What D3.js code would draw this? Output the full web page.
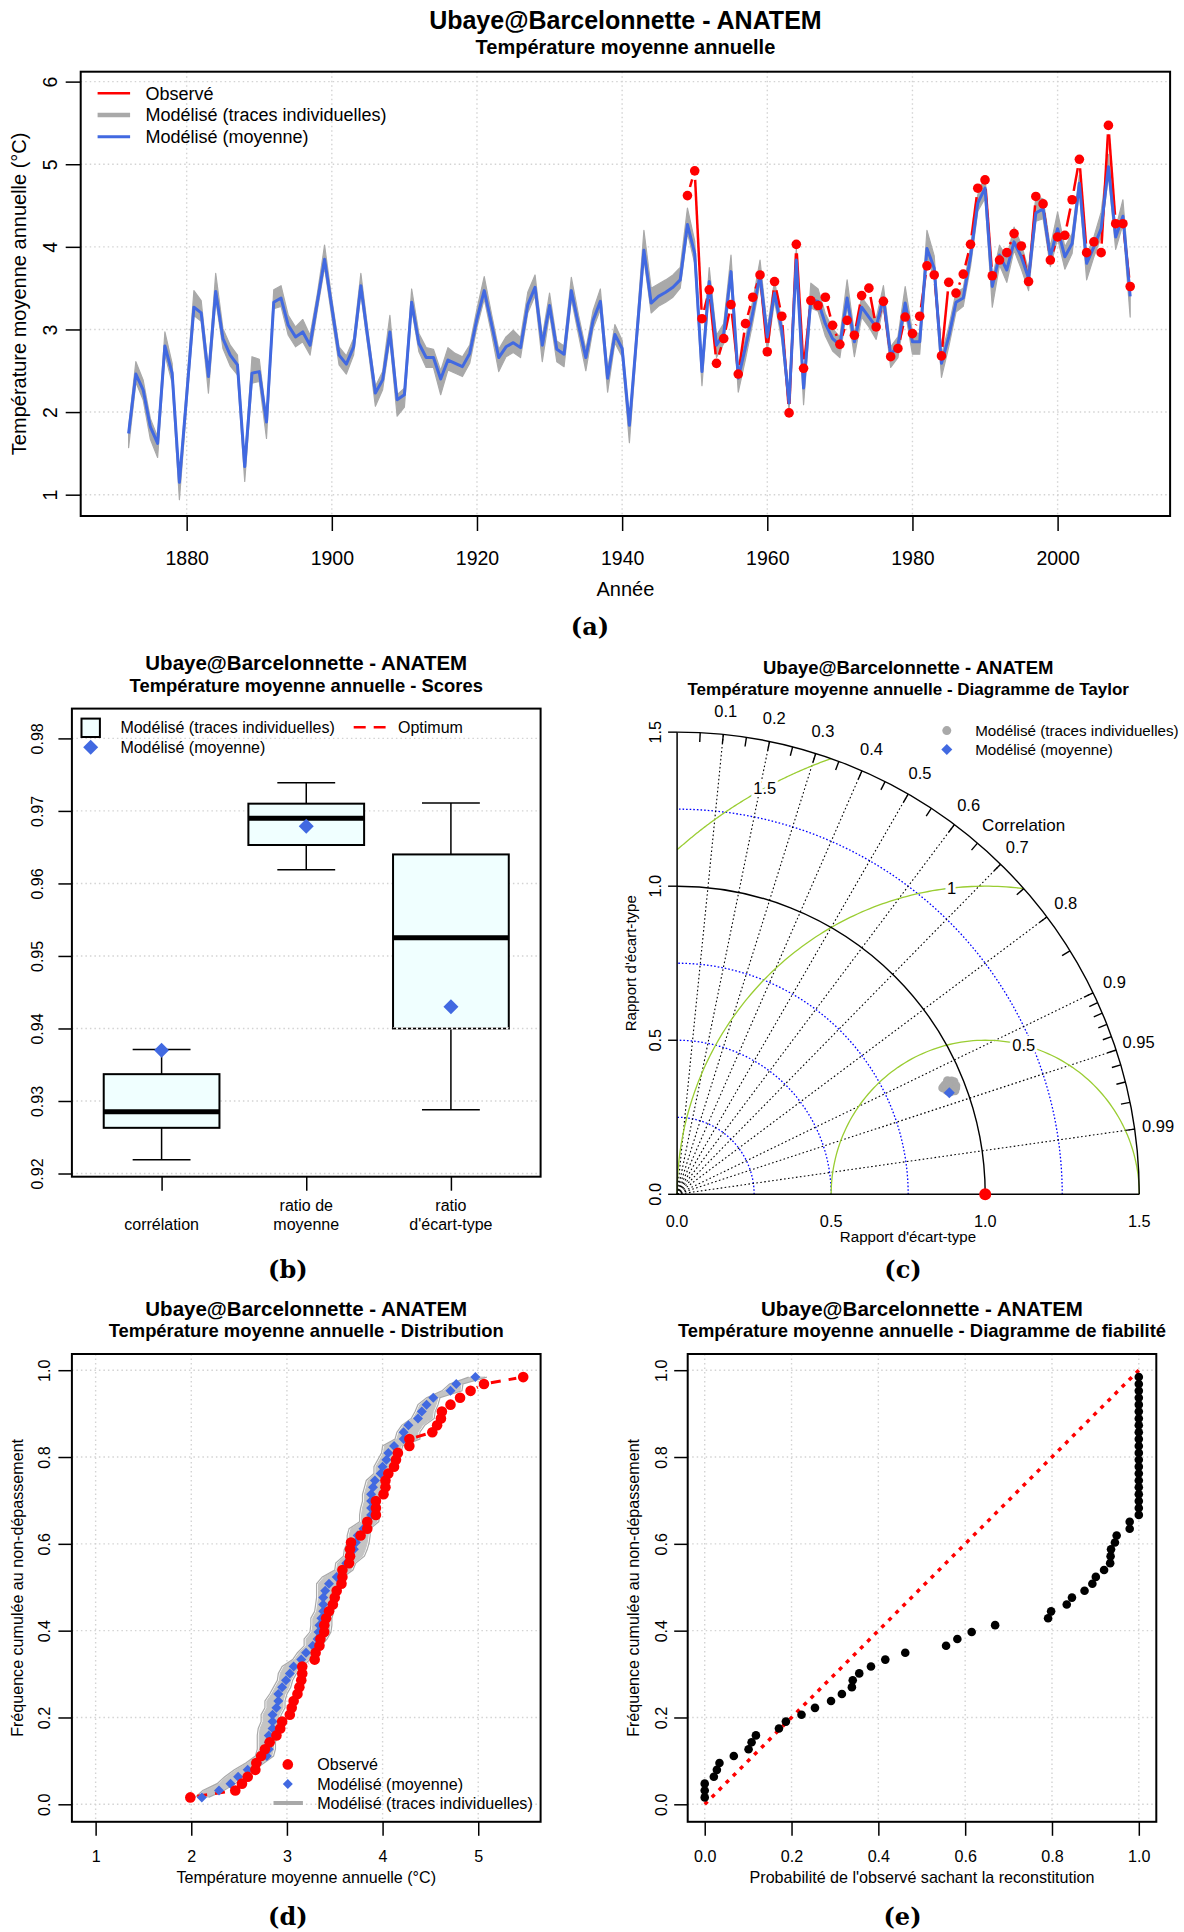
<!DOCTYPE html>
<html><head><meta charset="utf-8">
<script src="https://cdn.jsdelivr.net/npm/d3@7"></script>
<style>
html,body{margin:0;padding:0;background:#fff;}
svg{display:block;}
</style></head>
<body>
<svg id="fig" width="1184" height="1932" xmlns="http://www.w3.org/2000/svg"></svg>
<script>
// ================= DATA =================
// (a) annual mean temperature, modelled ensemble mean, 1872-2010
const yearStart = 1872;
const modMean = [
 1.74,2.46,2.27,1.82,1.62,2.80,2.47,1.15,2.20,3.27, // 1872-1881
 3.20,2.43,3.46,2.89,2.69,2.57,1.34,2.47,2.49,1.88, // 1882-1891
 3.33,3.38,3.05,2.91,2.97,2.81,3.33,3.85,3.27,2.69, // 1892-1901
 2.58,2.79,3.53,2.87,2.23,2.39,2.97,2.15,2.21,3.33, // 1902-1911
 2.83,2.66,2.66,2.40,2.63,2.59,2.55,2.71,3.13,3.47, // 1912-1921
 3.07,2.66,2.79,2.84,2.78,3.30,3.51,2.81,3.29,2.76, // 1922-1931
 2.70,3.47,3.05,2.66,3.11,3.34,2.41,2.94,2.77,1.84, // 1932-1941
 2.91,3.96,3.32,3.40,3.45,3.51,3.60,4.27,3.92,2.49, // 1942-1951
 3.58,2.81,2.95,3.70,2.41,2.79,3.20,3.66,2.91,3.44, // 1952-1961
 2.99,2.11,3.84,2.29,3.36,3.34,3.07,2.89,2.81,3.38, // 1962-1971
 2.85,3.27,3.15,3.03,3.38,2.69,2.81,3.32,2.85,2.85, // 1972-1981
 3.98,3.74,2.59,2.91,3.33,3.38,3.88,4.53,4.71,3.52, // 1982-1991
 3.90,3.72,4.06,3.88,3.62,4.41,4.46,3.88,4.22,3.88, // 1992-2001
 4.04,4.77,3.80,4.00,4.22,4.97,4.12,4.37,3.40        // 2002-2010
];
// spread of the individual traces below / above the mean
const envLow = [
 .17,.10,.12,.15,.17,.10,.12,.21,.12,.10, .10,.20,.10,.12,.13,.12,.18,.12,.12,.20,
 .08,.10,.12,.12,.12,.12,.10,.10,.12,.12, .12,.10,.10,.10,.16,.12,.10,.20,.15,.08,
 .10,.12,.12,.19,.12,.12,.12,.12,.10,.10, .12,.17,.12,.12,.12,.10,.10,.20,.10,.15,
 .15,.10,.12,.16,.10,.10,.17,.10,.10,.21, .12,.10,.12,.12,.12,.12,.10,.10,.12,.17,
 .10,.15,.12,.10,.17,.15,.12,.10,.17,.10, .12,.10,.10,.20,.10,.12,.15,.15,.15,.10,
 .18,.12,.12,.15,.10,.15,.15,.10,.15,.15, .10,.12,.17,.12,.12,.10,.12,.10,.12,.25,
 .12,.15,.10,.15,.15,.10,.12,.12,.12,.15, .12,.10,.20,.12,.10,.10,.15,.10,.25
];
const envHigh = [
 .08,.15,.12,.10,.08,.17,.12,.05,.12,.20, .15,.08,.22,.12,.12,.12,.06,.20,.15,.05,
 .15,.15,.12,.12,.15,.12,.10,.17,.10,.10, .10,.10,.15,.10,.08,.10,.20,.06,.08,.16,
 .12,.12,.10,.10,.15,.12,.12,.10,.12,.17, .12,.10,.12,.15,.12,.15,.15,.10,.15,.10,
 .10,.16,.12,.10,.12,.15,.10,.12,.10,.05, .12,.24,.18,.15,.15,.15,.15,.20,.15,.08,
 .17,.12,.12,.20,.08,.10,.15,.18,.10,.15, .10,.10,.15,.08,.20,.15,.12,.12,.10,.22,
 .10,.12,.12,.10,.15,.10,.10,.20,.12,.10, .22,.15,.10,.12,.12,.12,.12,.10,.15,.10,
 .12,.15,.18,.15,.10,.20,.12,.12,.20,.12, .12,.10,.10,.12,.20,.15,.10,.20,.10
];
// observed annual mean temperature, 1949-2010
const obsStart = 1949;
const observed = [
 4.62,4.92,3.13,3.48,2.59,2.89,3.30,2.46,3.07,3.39, // 1949-1958
 3.66,2.73,3.58,3.16,1.99,4.03,2.53,3.35,3.29,3.39, // 1959-1968
 3.05,2.82,3.11,2.93,3.41,3.50,3.03,3.34,2.67,2.77, // 1969-1978
 3.15,2.95,3.16,3.77,3.66,2.68,3.57,3.44,3.67,4.03, // 1979-1988
 4.71,4.81,3.65,3.84,3.93,4.16,4.01,3.58,4.61,4.52, // 1989-1998
 3.84,4.12,4.14,4.57,5.06,3.93,4.06,3.93,5.47,4.28, // 1999-2008
 4.28,3.52                                          // 2009-2010
];
const yearTicks = [1880,1900,1920,1940,1960,1980,2000];
const tempTicks = [1,2,3,4,5,6];
const legendA = ["Observé","Modélisé (traces individuelles)","Modélisé (moyenne)"];

// (b) scores boxplots
const scoreCategories = [["corrélation"],["ratio de","moyenne"],["ratio","d'écart-type"]];
const boxWhiskerLow  = [0.9219,0.9619,0.9288];
const boxQ1          = [0.9263,0.9653,0.9400];
const boxMedian      = [0.9285,0.9690,0.9525];
const boxQ3          = [0.9337,0.9710,0.9640];
const boxWhiskerHigh = [0.9371,0.9739,0.9711];
const meanScores     = [0.9370,0.9679,0.9430];
const scoreTicks = [0.92,0.93,0.94,0.95,0.96,0.97,0.98];

// (c) Taylor diagram: individual traces (correlation, sd ratio)
const memberCorr = [0.9219,0.9245,0.9258,0.9263,0.9268,0.9275,0.9281,0.9283,0.9285,0.9286,
                    0.9290,0.9301,0.9318,0.9330,0.9337,0.9342,0.9350,0.9358,0.9365,0.9371];
const memberSd   = [0.9520,0.9640,0.9410,0.9700,0.9350,0.9480,0.9600,0.9288,0.9560,0.9400,
                    0.9650,0.9530,0.9711,0.9380,0.9450,0.9680,0.9420,0.9590,0.9500,0.9620];
const corrLabelValues = [0.1,0.2,0.3,0.4,0.5,0.6,0.7,0.8,0.9,0.95,0.99];
const corrTickValues = [0.05,0.1,0.15,0.2,0.25,0.3,0.35,0.4,0.45,0.5,0.55,0.6,0.65,0.7,0.75,0.8,0.85,0.9,
                        0.91,0.92,0.93,0.94,0.95,0.96,0.97,0.98,0.99];
const sdArcsDotted = [0.25,0.5,0.75,1.25];
const sdArcsSolid = [1.0,1.5];
const rmsArcs = [0.5,1.0,1.5];
const rmsLabels = ["0.5","1","1.5"];
const sdTicks = [0,0.5,1.0,1.5];

// (d) distribution ticks
const distTempTicks = [1,2,3,4,5];
const freqTicks = [0,0.2,0.4,0.6,0.8,1.0];

// (e) reliability: probability of the observation given the reconstruction (sorted)
const reliabilityP = [
 0,0,0,0.021,0.028,0.034,0.067,0.101,0.108,0.118,
 0.171,0.187,0.223,0.254,0.291,0.316,0.339,0.341,0.356,0.383,
 0.416,0.462,0.556,0.582,0.615,0.669,0.791,0.798,0.834,0.846,
 0.875,0.893,0.901,0.920,0.934,0.935,0.936,0.945,0.949,0.979,
 0.979,1,1,1,1,1,1,1,1,1,
 1,1,1,1,1,1,1,1,1,1,
 1,1
];
const probTicks = [0,0.2,0.4,0.6,0.8,1.0];

// ================= DRAWING =================
const svg = d3.select("#fig");
const SANS = "'Liberation Sans', Arial, Helvetica, sans-serif";
const SERIF = "'DejaVu Serif', 'Liberation Serif', serif";
const BLUE = "#4169E1", GREY = "#A9A9A9", RED = "#FF0000", GRID = "#D3D3D3", AZURE = "#F0FFFF", GREEN = "#9ACD32";
const defs = svg.append("defs");

function txt(g, x, y, s, size, o = {}) {
  const t = g.append("text").attr("x", x).attr("y", y).text(s)
    .attr("font-size", size).attr("font-family", o.family || SANS)
    .attr("text-anchor", o.anchor || "middle").attr("fill", o.fill || "#000");
  if (o.bold) t.attr("font-weight", "bold");
  if (o.rotate) t.attr("transform", `rotate(${o.rotate},${x},${y})`);
  return t;
}
const ctext = (g, cx, cy, s, size, o = {}) => txt(g, cx, cy + 0.355 * size, s, size, o);
const vtext = (g, cx, cy, s, size, o = {}) => txt(g, cx + 0.355 * size, cy, s, size, Object.assign({ rotate: -90 }, o));
const diamond = s => `M0,${-s}L${s},0L0,${s}L${-s},0Z`;

function clip(id, L, T, R, B) {
  defs.append("clipPath").attr("id", id).append("rect").attr("x", L).attr("y", T).attr("width", R - L).attr("height", B - T);
}
function gridX(g, vals, x, T, B) {
  g.selectAll(null).data(vals).join("line").attr("x1", d => x(d)).attr("x2", d => x(d)).attr("y1", T).attr("y2", B)
    .attr("stroke", GRID).attr("stroke-width", 1.4).attr("stroke-dasharray", "1.5,3");
}
function gridY(g, vals, y, L, R) {
  g.selectAll(null).data(vals).join("line").attr("y1", d => y(d)).attr("y2", d => y(d)).attr("x1", L).attr("x2", R)
    .attr("stroke", GRID).attr("stroke-width", 1.4).attr("stroke-dasharray", "1.5,3");
}
function gapped(g, pts, gap, stroke, width, dash) {
  for (let i = 0; i < pts.length - 1; i++) {
    const [x0, y0] = pts[i], [x1, y1] = pts[i + 1];
    const dx = x1 - x0, dy = y1 - y0, len = Math.hypot(dx, dy);
    if (len <= 2 * gap) continue;
    const ux = dx / len, uy = dy / len;
    const l = g.append("line").attr("x1", x0 + ux * gap).attr("y1", y0 + uy * gap)
      .attr("x2", x1 - ux * gap).attr("y2", y1 - uy * gap)
      .attr("stroke", stroke).attr("stroke-width", width);
    if (dash) l.attr("stroke-dasharray", dash);
  }
}
function bottomAxis(g, x, vals, B, size, tick, labelCy, fmt) {
  const a = g.append("g").attr("transform", `translate(0,${B})`)
    .call(d3.axisBottom(x).tickValues(vals).tickSize(tick).tickSizeOuter(0).tickFormat(fmt));
  a.select(".domain").remove();
  a.attr("font-family", SANS).attr("font-size", size);
  a.selectAll("line").attr("stroke", "#000").attr("stroke-width", 1.5);
  a.selectAll("text").attr("fill", "#000").attr("dy", null).attr("y", labelCy - B + 0.355 * size);
  return a;
}
function leftAxis(g, y, vals, L, size, tick, labelCx, fmt) {
  const a = g.append("g").attr("transform", `translate(${L},0)`)
    .call(d3.axisLeft(y).tickValues(vals).tickSize(tick).tickSizeOuter(0).tickFormat(fmt));
  a.select(".domain").remove();
  a.attr("font-family", SANS).attr("font-size", size);
  a.selectAll("line").attr("stroke", "#000").attr("stroke-width", 1.5);
  a.selectAll("text").attr("fill", "#000").attr("x", null).attr("dy", null).attr("text-anchor", "middle")
    .attr("transform", `translate(${labelCx + 0.355 * size - L},0) rotate(-90)`);
  return a;
}
function frame(g, L, T, R, B) {
  g.append("rect").attr("x", L).attr("y", T).attr("width", R - L).attr("height", B - T)
    .attr("fill", "none").attr("stroke", "#000").attr("stroke-width", 2);
}

// ---------- (a) time series ----------
{
  const L = 80.7, R = 1170.1, T = 71.7, B = 516;
  const g = svg.append("g");
  const x = d3.scaleLinear().domain([1865.4, 2015.5]).range([L, R]);
  const y = d3.scaleLinear().domain([0.742, 6.12]).range([B, T]);
  clip("clipA", L, T, R, B);
  gridX(g, yearTicks, x, T, B);
  gridY(g, tempTicks, y, L, R);
  const pg = g.append("g").attr("clip-path", "url(#clipA)");
  const yr = i => yearStart + i;
  pg.append("path").datum(modMean)
    .attr("d", d3.area().x((d, i) => x(yr(i))).y0((d, i) => y(d - envLow[i])).y1((d, i) => y(d + envHigh[i])))
    .attr("fill", GREY).attr("stroke", GREY).attr("stroke-width", 1.2).attr("stroke-linejoin", "round");
  const pts = observed.map((v, i) => [x(obsStart + i), y(v)]);
  gapped(pg, pts, 9, RED, 2.5);
  pg.append("path").datum(modMean)
    .attr("d", d3.line().x((d, i) => x(yr(i))).y(d => y(d)))
    .attr("fill", "none").attr("stroke", BLUE).attr("stroke-width", 3).attr("stroke-linejoin", "round");
  pg.selectAll(null).data(pts).join("circle").attr("cx", d => d[0]).attr("cy", d => d[1]).attr("r", 4.8).attr("fill", RED);
  frame(g, L, T, R, B);
  bottomAxis(g, x, yearTicks, B, 19.5, 15, 558.3, d3.format("d"));
  leftAxis(g, y, tempTicks, L, 19.5, 15, 49.7, d3.format("d"));
  ctext(g, (L + R) / 2, 20, "Ubaye@Barcelonnette - ANATEM", 25, { bold: true });
  ctext(g, (L + R) / 2, 46.7, "Température moyenne annuelle", 20, { bold: true });
  ctext(g, (L + R) / 2, 589, "Année", 20);
  vtext(g, 19, (T + B) / 2, "Température moyenne annuelle (°C)", 20);
  // legend
  const ly = [93.3, 115, 136.7], lc = [RED, GREY, BLUE], lw = [2.5, 4.5, 3];
  legendA.forEach((s, i) => {
    g.append("line").attr("x1", 97.6).attr("x2", 130.1).attr("y1", ly[i]).attr("y2", ly[i]).attr("stroke", lc[i]).attr("stroke-width", lw[i]);
    ctext(g, 145.4, ly[i], s, 18, { anchor: "start" });
  });
  ctext(g, 590, 626, "(a)", 24, { family: SERIF, bold: true });
}

// ---------- (b) scores ----------
{
  const L = 71.9, R = 540.6, T = 708.6, B = 1176.7;
  const g = svg.append("g");
  const x = d3.scaleLinear().domain([0.38, 3.62]).range([L, R]);
  const y = d3.scaleLinear().domain([0.91956, 0.98411]).range([B, T]);
  gridY(g, scoreTicks, y, L, R);
  const idx = [1, 2, 3];
  const hw = x(1.4) - x(1), cw = x(1.2) - x(1);
  idx.forEach((k, i) => {
    const cx = x(k);
    g.append("line").attr("x1", cx).attr("x2", cx).attr("y1", y(boxWhiskerLow[i])).attr("y2", y(boxQ1[i])).attr("stroke", "#000").attr("stroke-width", 1.5);
    g.append("line").attr("x1", cx).attr("x2", cx).attr("y1", y(boxQ3[i])).attr("y2", y(boxWhiskerHigh[i])).attr("stroke", "#000").attr("stroke-width", 1.5);
    [boxWhiskerLow[i], boxWhiskerHigh[i]].forEach(v =>
      g.append("line").attr("x1", cx - cw).attr("x2", cx + cw).attr("y1", y(v)).attr("y2", y(v)).attr("stroke", "#000").attr("stroke-width", 1.5));
    g.append("rect").attr("x", cx - hw).attr("width", 2 * hw).attr("y", y(boxQ3[i])).attr("height", y(boxQ1[i]) - y(boxQ3[i]))
      .attr("fill", AZURE).attr("stroke", "#000").attr("stroke-width", 2);
    g.append("line").attr("x1", cx - hw).attr("x2", cx + hw).attr("y1", y(boxMedian[i])).attr("y2", y(boxMedian[i])).attr("stroke", "#000").attr("stroke-width", 5);
    g.append("path").attr("d", diamond(7.5)).attr("transform", `translate(${cx},${y(meanScores[i])})`).attr("fill", BLUE);
  });
  // dashed bottom edge of third box
  g.append("line").attr("x1", x(3) - hw).attr("x2", x(3) + hw).attr("y1", y(boxQ1[2])).attr("y2", y(boxQ1[2]))
    .attr("stroke", "#fff").attr("stroke-width", 2.2);
  g.append("line").attr("x1", x(3) - hw).attr("x2", x(3) + hw).attr("y1", y(boxQ1[2])).attr("y2", y(boxQ1[2]))
    .attr("stroke", "#000").attr("stroke-width", 1.6).attr("stroke-dasharray", "3,2");
  frame(g, L, T, R, B);
  const a = g.append("g").attr("transform", `translate(0,${B})`)
    .call(d3.axisBottom(x).tickValues(idx).tickSize(14).tickSizeOuter(0).tickFormat(""));
  a.select(".domain").remove();
  a.selectAll("line").attr("stroke", "#000").attr("stroke-width", 1.5);
  scoreCategories.forEach((lines, i) => {
    const cys = lines.length === 1 ? [1224.5] : [1205.3, 1224.5];
    lines.forEach((s, j) => ctext(g, x(idx[i]), cys[j], s, 16));
  });
  leftAxis(g, y, scoreTicks, L, 16, 13.5, 37.6, d3.format(".2f"));
  ctext(g, (L + R) / 2, 662.4, "Ubaye@Barcelonnette - ANATEM", 20.5, { bold: true });
  ctext(g, (L + R) / 2, 685.7, "Température moyenne annuelle - Scores", 18.4, { bold: true });
  // legend
  g.append("rect").attr("x", 90.7 - 9.2).attr("y", 727.8 - 9.2).attr("width", 18.4).attr("height", 18.4)
    .attr("fill", AZURE).attr("stroke", "#000").attr("stroke-width", 2);
  ctext(g, 120.4, 727.8, "Modélisé (traces individuelles)", 16, { anchor: "start" });
  g.append("path").attr("d", diamond(7.5)).attr("transform", "translate(90.7,747.3)").attr("fill", BLUE);
  ctext(g, 120.4, 747.3, "Modélisé (moyenne)", 16, { anchor: "start" });
  g.append("line").attr("x1", 353.7).attr("x2", 385.6).attr("y1", 727.3).attr("y2", 727.3)
    .attr("stroke", RED).attr("stroke-width", 2.5).attr("stroke-dasharray", "12,8");
  ctext(g, 398, 727.8, "Optimum", 16, { anchor: "start" });
  ctext(g, 287.8, 1269, "(b)", 24, { family: SERIF, bold: true });
}

// ---------- (c) Taylor diagram ----------
{
  const g = svg.append("g");
  const O = [677.1, 1194.3];
  const r = d3.scaleLinear().domain([0, 1.5]).range([0, 462.15]);
  const P = (rad, c) => [O[0] + r(rad) * c, O[1] - r(rad) * Math.sqrt(Math.max(0, 1 - c * c))];
  const quarter = rad => { const p = d3.path(); p.moveTo(O[0] + r(rad), O[1]); p.arc(O[0], O[1], r(rad), 0, -Math.PI / 2, true); return p.toString(); };
  sdArcsDotted.forEach(v => g.append("path").attr("d", quarter(v)).attr("fill", "none").attr("stroke", "#0000FF").attr("stroke-width", 1.3).attr("stroke-dasharray", "1.6,2"));
  corrLabelValues.forEach(c => { const [x1, y1] = P(1.5, c);
    g.append("line").attr("x1", O[0]).attr("y1", O[1]).attr("x2", x1).attr("y2", y1).attr("stroke", "#000").attr("stroke-width", 1.1).attr("stroke-dasharray", "1.6,2.4"); });
  const line = d3.line().x(d => O[0] + r(d[0])).y(d => O[1] - r(d[1]));
  rmsArcs.forEach(rho => {
    const xe = (3.25 - rho * rho) / 2;
    const te = Math.atan2(Math.sqrt(Math.max(0, rho * rho - (xe - 1) * (xe - 1))), xe - 1);
    const ts = rho <= 1 ? Math.PI : Math.atan2(Math.sqrt(rho * rho - 1), -1);
    const pts = d3.range(0, 121).map(k => { const t = te + (ts - te) * k / 120; return [1 + rho * Math.cos(t), rho * Math.sin(t)]; });
    g.append("path").attr("d", line(pts)).attr("fill", "none").attr("stroke", GREEN).attr("stroke-width", 1.3);
  });
  const rmsAngles = [75.5, 96.25, 118.5];
  rmsArcs.forEach((rho, i) => {
    const t = rmsAngles[i] * Math.PI / 180;
    const px = O[0] + r(1 + rho * Math.cos(t)), py = O[1] - r(rho * Math.sin(t));
    ctext(g, px, py, rmsLabels[i], 16.5).attr("stroke", "#fff").attr("stroke-width", 6).attr("paint-order", "stroke");
  });
  sdArcsSolid.forEach(v => g.append("path").attr("d", quarter(v)).attr("fill", "none").attr("stroke", "#000").attr("stroke-width", 1.4));
  corrTickValues.forEach(c => { const [x1, y1] = P(1.5, c), [x2, y2] = P(1.47, c);
    g.append("line").attr("x1", x1).attr("y1", y1).attr("x2", x2).attr("y2", y2).attr("stroke", "#000").attr("stroke-width", 1.4); });
  corrLabelValues.forEach(c => { const [px, py] = P(1.577, c); ctext(g, px, py, String(c), 16.5); });
  ctext(g, 1023.7, 824.9, "Correlation", 17);
  g.append("line").attr("x1", O[0]).attr("x2", O[0]).attr("y1", O[1]).attr("y2", O[1] - r(1.5)).attr("stroke", "#000").attr("stroke-width", 1.5);
  g.append("line").attr("x1", O[0]).attr("x2", O[0] + r(1.5)).attr("y1", O[1]).attr("y2", O[1]).attr("stroke", "#000").attr("stroke-width", 1.5);
  sdTicks.forEach(v => {
    g.append("line").attr("x1", O[0] - 9).attr("x2", O[0]).attr("y1", O[1] - r(v)).attr("y2", O[1] - r(v)).attr("stroke", "#000").attr("stroke-width", 1.4);
    vtext(g, 655, O[1] - r(v), v.toFixed(1), 16.3);
    ctext(g, O[0] + r(v), 1221.6, v.toFixed(1), 16.3);
  });
  ctext(g, 908, 1237, "Rapport d'écart-type", 15.1);
  vtext(g, 631, O[1] - r(0.75), "Rapport d'écart-type", 15.1);
  memberCorr.forEach((c, i) => { const [px, py] = P(memberSd[i], c);
    g.append("circle").attr("cx", px).attr("cy", py).attr("r", 4.5).attr("fill", GREY); });
  { const [px, py] = P(meanScores[2], meanScores[0]);
    g.append("path").attr("d", diamond(5.5)).attr("transform", `translate(${px},${py})`).attr("fill", BLUE); }
  { const [px, py] = P(1, 1); g.append("circle").attr("cx", px).attr("cy", py).attr("r", 6).attr("fill", RED); }
  ctext(g, 908.2, 667.8, "Ubaye@Barcelonnette - ANATEM", 18.5, { bold: true });
  ctext(g, 908.2, 689, "Température moyenne annuelle - Diagramme de Taylor", 17, { bold: true });
  g.append("circle").attr("cx", 946.8).attr("cy", 730.6).attr("r", 4.5).attr("fill", GREY);
  ctext(g, 975.2, 730.6, "Modélisé (traces individuelles)", 15.2, { anchor: "start" });
  g.append("path").attr("d", diamond(5.5)).attr("transform", "translate(946.8,749.4)").attr("fill", BLUE);
  ctext(g, 975.2, 749.4, "Modélisé (moyenne)", 15.2, { anchor: "start" });
  ctext(g, 903, 1269, "(c)", 24, { family: SERIF, bold: true });
}

// ---------- (d) distribution ----------
const nObs = observed.length;
const freq = i => (i + 1) / (nObs + 1);
{
  const L = 71.9, R = 540.6, T = 1354, B = 1821.8;
  const g = svg.append("g");
  const x = d3.scaleLinear().domain([0.752, 5.652]).range([L, R]);
  const y = d3.scaleLinear().domain([-0.0403, 1.0373]).range([B, T]);
  clip("clipD", L, T, R, B);
  gridX(g, distTempTicks, x, T, B);
  gridY(g, freqTicks, y, L, R);
  const pg = g.append("g").attr("clip-path", "url(#clipD)");
  const off = obsStart - yearStart;
  const modSub = modMean.slice(off, off + nObs);
  const modSorted = modSub.slice().sort(d3.ascending);
  const loSorted = modSub.map((v, i) => v - envLow[off + i]).sort(d3.ascending);
  const hiSorted = modSub.map((v, i) => v + envHigh[off + i]).sort(d3.ascending);
  const obsSorted = observed.slice().sort(d3.ascending);
  pg.append("path").datum(modSorted)
    .attr("d", d3.area().y((d, i) => y(freq(i))).x0((d, i) => x(loSorted[i] + 0.05)).x1((d, i) => x(hiSorted[i] - 0.05)))
    .attr("fill", "#C4C4C4").attr("stroke", "#C4C4C4").attr("stroke-width", 1);
  [loSorted, hiSorted].forEach(arr => pg.append("path").datum(arr.map(v => v + (arr === loSorted ? 0.03 : -0.03)))
    .attr("d", d3.line().x(d => x(d)).y((d, i) => y(freq(i)))).attr("fill", "none").attr("stroke", GREY).attr("stroke-width", 1.2));
  const rp = obsSorted.map((v, i) => [x(v), y(freq(i))]);
  gapped(pg, rp, 7, RED, 3, "10,8");
  pg.selectAll(null).data(modSorted).join("path").attr("d", diamond(5))
    .attr("transform", (d, i) => `translate(${x(d)},${y(freq(i))})`).attr("fill", BLUE);
  pg.selectAll(null).data(rp).join("circle").attr("cx", d => d[0]).attr("cy", d => d[1]).attr("r", 5.3).attr("fill", RED);
  frame(g, L, T, R, B);
  bottomAxis(g, x, distTempTicks, B, 16.1, 14, 1856, d3.format("d"));
  leftAxis(g, y, freqTicks, L, 16.1, 13.5, 44.4, d3.format(".1f"));
  ctext(g, (L + R) / 2, 1308.3, "Ubaye@Barcelonnette - ANATEM", 20.5, { bold: true });
  ctext(g, (L + R) / 2, 1330.7, "Température moyenne annuelle - Distribution", 18.4, { bold: true });
  ctext(g, (L + R) / 2, 1877.5, "Température moyenne annuelle (°C)", 16.1);
  vtext(g, 16.9, (T + B) / 2, "Fréquence cumulée au non-dépassement", 16.1);
  g.append("circle").attr("cx", 287.8).attr("cy", 1764.4).attr("r", 5.3).attr("fill", RED);
  ctext(g, 317.2, 1764.4, "Observé", 16.1, { anchor: "start" });
  g.append("path").attr("d", diamond(5)).attr("transform", "translate(287.8,1784)").attr("fill", BLUE);
  ctext(g, 317.2, 1784, "Modélisé (moyenne)", 16.1, { anchor: "start" });
  g.append("line").attr("x1", 273.5).attr("x2", 302.9).attr("y1", 1803).attr("y2", 1803).attr("stroke", GREY).attr("stroke-width", 4);
  ctext(g, 317.2, 1803, "Modélisé (traces individuelles)", 16.1, { anchor: "start" });
  ctext(g, 287.8, 1916, "(d)", 24, { family: SERIF, bold: true });
}

// ---------- (e) reliability ----------
{
  const L = 687.7, R = 1156.3, T = 1354, B = 1821.8;
  const g = svg.append("g");
  const x = d3.scaleLinear().domain([-0.0392, 1.0403]).range([L, R]);
  const y = d3.scaleLinear().domain([-0.0403, 1.0373]).range([B, T]);
  gridX(g, probTicks, x, T, B);
  gridY(g, freqTicks, y, L, R);
  g.append("line").attr("x1", x(0)).attr("y1", y(0)).attr("x2", x(1)).attr("y2", y(1))
    .attr("stroke", RED).attr("stroke-width", 3.5).attr("stroke-dasharray", "4,6");
  g.selectAll(null).data(reliabilityP).join("circle").attr("cx", d => x(d)).attr("cy", (d, i) => y(freq(i))).attr("r", 4.3).attr("fill", "#000");
  frame(g, L, T, R, B);
  bottomAxis(g, x, probTicks, B, 16.1, 14, 1856, d3.format(".1f"));
  leftAxis(g, y, freqTicks, L, 16.1, 13.5, 661.2, d3.format(".1f"));
  ctext(g, (L + R) / 2, 1308.3, "Ubaye@Barcelonnette - ANATEM", 20.5, { bold: true });
  ctext(g, (L + R) / 2, 1330.7, "Température moyenne annuelle - Diagramme de fiabilité", 18.4, { bold: true });
  ctext(g, (L + R) / 2, 1877.5, "Probabilité de l'observé sachant la reconstitution", 16.1);
  vtext(g, 633.6, (T + B) / 2, "Fréquence cumulée au non-dépassement", 16.1);
  ctext(g, 902.5, 1916, "(e)", 24, { family: SERIF, bold: true });
}
</script>
</body></html>
